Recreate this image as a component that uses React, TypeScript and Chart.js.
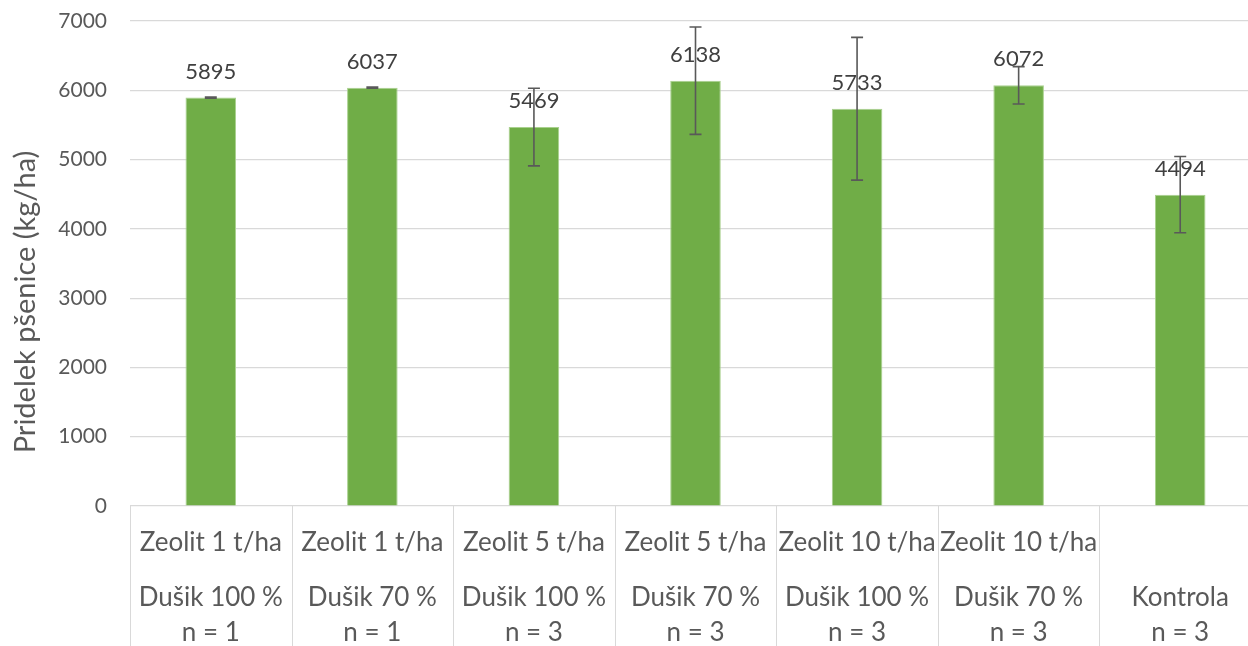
import React, { useEffect, useRef } from "react";
import { Chart, registerables } from "chart.js";

Chart.register(...registerables);

const zeolitLabels = ["Zeolit 1 t/ha", "Zeolit 1 t/ha", "Zeolit 5 t/ha", "Zeolit 5 t/ha", "Zeolit 10 t/ha", "Zeolit 10 t/ha", ""];
const dusikLabels = ["Dušik 100 %", "Dušik 70 %", "Dušik 100 %", "Dušik 70 %", "Dušik 100 %", "Dušik 70 %", "Kontrola"];
const sampleLabels = ["n = 1", "n = 1", "n = 3", "n = 3", "n = 3", "n = 3", "n = 3"];
const yields = [5895, 6037, 5469, 6138, 5733, 6072, 4494];
const errors = [8, 8, 560, 775, 1030, 270, 550];
const yTicks = [0, 1000, 2000, 3000, 4000, 5000, 6000, 7000];
const yTitle = "Pridelek pšenice (kg/ha)";

const FONT = "Lato, 'Noto Sans', sans-serif";
const GRID = "#D9D9D9";
const TEXT = "#595959";

const overlay = {
  id: "overlay",
  afterDatasetsDraw(chart: any) {
    const ctx = chart.ctx;
    const area = chart.chartArea;
    const xs = chart.scales.x;
    const ys = chart.scales.y;
    const meta = chart.getDatasetMeta(0);
    const n = yields.length;
    const step = n > 1 ? xs.getPixelForValue(1) - xs.getPixelForValue(0) : area.right - area.left;
    ctx.save();
    // separators of category axis
    ctx.strokeStyle = GRID;
    ctx.lineWidth = 1;
    for (let i = 0; i <= n; i++) {
      const x = Math.round(xs.getPixelForValue(0) - step / 2 + i * step) + 0.5;
      ctx.beginPath();
      ctx.moveTo(x, area.bottom);
      ctx.lineTo(x, chart.height);
      ctx.stroke();
    }
    // category labels
    ctx.fillStyle = TEXT;
    ctx.font = `26px ${FONT}`;
    ctx.textAlign = "center";
    ctx.textBaseline = "middle";
    for (let i = 0; i < n; i++) {
      const x = xs.getPixelForValue(i);
      if (zeolitLabels[i]) ctx.fillText(zeolitLabels[i], x, area.bottom + 37);
      ctx.fillText(dusikLabels[i], x, area.bottom + 92);
      ctx.fillText(sampleLabels[i], x, area.bottom + 127);
    }
    // data labels
    ctx.fillStyle = "#404040";
    ctx.font = `22px ${FONT}`;
    for (let i = 0; i < n; i++) {
      const bar = meta.data[i];
      ctx.fillText(String(yields[i]), bar.x, bar.y - 26);
    }
    // error bars
    ctx.strokeStyle = "#595959";
    ctx.lineWidth = 1.6;
    for (let i = 0; i < n; i++) {
      const bar = meta.data[i];
      const yt = ys.getPixelForValue(yields[i] + errors[i]);
      const yb = ys.getPixelForValue(yields[i] - errors[i]);
      ctx.beginPath();
      ctx.moveTo(bar.x, yt);
      ctx.lineTo(bar.x, yb);
      ctx.moveTo(bar.x - 6, yt);
      ctx.lineTo(bar.x + 6, yt);
      ctx.moveTo(bar.x - 6, yb);
      ctx.lineTo(bar.x + 6, yb);
      ctx.stroke();
    }
    // y axis title
    ctx.fillStyle = TEXT;
    ctx.font = `29px ${FONT}`;
    ctx.translate(26, 302);
    ctx.rotate(-Math.PI / 2);
    ctx.fillText(yTitle, 0, 0);
    ctx.restore();
  },
};

export default function App() {
  const ref = useRef<HTMLCanvasElement | null>(null);
  useEffect(() => {
    if (!ref.current) return;
    const chart = new Chart(ref.current, {
      type: "bar",
      data: {
        labels: dusikLabels,
        datasets: [
          {
            data: yields,
            backgroundColor: "#70AD47",
            borderColor: "#A9D18E",
            borderWidth: { left: 1, right: 1, top: 1, bottom: 0 },
            categoryPercentage: 1,
            barPercentage: 0.313,
          },
        ],
      },
      options: {
        responsive: false,
        animation: false,
        devicePixelRatio: 1,
        layout: { padding: { top: 21, right: 0, bottom: 140, left: 0 } },
        plugins: { legend: { display: false }, tooltip: { enabled: false }, title: { display: false } },
        scales: {
          x: { display: false },
          y: {
            min: 0,
            max: 7000,
            afterBuildTicks: (scale: any) => {
              scale.ticks = yTicks.map((v) => ({ value: v }));
            },
            afterFit: (scale: any) => {
              scale.width = 130;
              scale.paddingTop = 0;
              scale.paddingBottom = 0;
            },
            border: { display: false },
            grid: { color: GRID, lineWidth: 1.2, drawTicks: false },
            ticks: {
              padding: 23,
              color: TEXT,
              font: { family: FONT, size: 21 },
              callback: (v: any) => String(v),
            },
          },
        },
      },
      plugins: [overlay],
    });
    return () => chart.destroy();
  }, []);
  return (
    <div style={{ position: "fixed", left: 0, top: 0, width: 1248, height: 646, overflow: "hidden", background: "#fff" }}>
      <canvas ref={ref} width={1261} height={646} style={{ display: "block", width: 1261, height: 646 }} />
    </div>
  );
}
